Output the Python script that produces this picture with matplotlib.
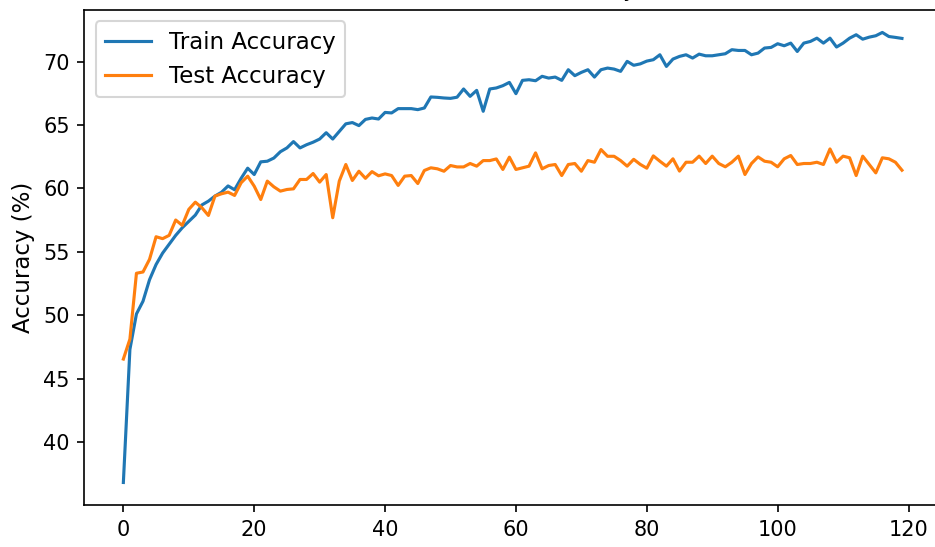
import numpy as np
from matplotlib import pyplot as plt

train_acc = [36.8, 47.3, 50.1, 51.1, 52.8, 54.0, 54.9, 55.6, 56.3, 56.9,
             57.4, 57.9, 58.7, 59.0, 59.4, 59.7, 60.2, 59.9, 60.8, 61.6,
             61.1, 62.1, 62.15, 62.4, 62.9, 63.2, 63.7, 63.2, 63.45, 63.65,
             63.9, 64.4, 63.9, 64.5, 65.1, 65.2, 64.96, 65.45, 65.56, 65.48,
             66.0, 65.96, 66.3, 66.3, 66.3, 66.22, 66.35, 67.22, 67.19, 67.14,
             67.11, 67.2, 67.85, 67.27, 67.74, 66.09, 67.85, 67.93, 68.11, 68.37,
             67.48, 68.53, 68.58, 68.5, 68.85, 68.71, 68.79, 68.53, 69.37, 68.9,
             69.16, 69.37, 68.79, 69.37, 69.5, 69.42, 69.24, 70.03, 69.72, 69.83,
             70.05, 70.16, 70.55, 69.63, 70.21, 70.42, 70.55, 70.29, 70.6, 70.47,
             70.47, 70.55, 70.63, 70.95, 70.89, 70.89, 70.55, 70.68, 71.08, 71.13,
             71.42, 71.26, 71.47, 70.81, 71.47, 71.6, 71.86, 71.47, 71.86, 71.16,
             71.47, 71.86, 72.13, 71.78, 71.94, 72.05, 72.31, 71.99, 71.92, 71.84]

test_acc = [46.54, 48.11, 53.31, 53.41, 54.41, 56.19, 56.04, 56.3, 57.51, 57.09,
            58.35, 58.92, 58.48, 57.87, 59.4, 59.58, 59.71, 59.45, 60.45, 60.97,
            60.18, 59.13, 60.58, 60.13, 59.79, 59.92, 59.97, 60.71, 60.71, 61.18,
            60.5, 61.1, 57.69, 60.58, 61.89, 60.63, 61.36, 60.8, 61.33, 61.0,
            61.15, 61.02, 60.24, 60.97, 61.02, 60.39, 61.42, 61.63, 61.55, 61.36,
            61.81, 61.7, 61.7, 61.97, 61.76, 62.2, 62.2, 62.33, 61.5, 62.47,
            61.5, 61.63, 61.76, 62.81, 61.55, 61.81, 61.89, 61.02, 61.89, 61.97,
            61.36, 62.2, 62.07, 63.07, 62.54, 62.54, 62.2, 61.76, 62.3, 61.9,
            61.6, 62.57, 62.15, 61.76, 62.34, 61.37, 62.07, 62.07, 62.55, 61.97,
            62.55, 61.97, 61.71, 62.07, 62.55, 61.1, 61.97, 62.49, 62.15, 62.07,
            61.71, 62.34, 62.6, 61.89, 61.97, 61.97, 62.07, 61.89, 63.12, 62.07,
            62.55, 62.42, 61.02, 62.55, 61.89, 61.23, 62.42, 62.34, 62.07, 61.44]

epochs = np.arange(len(train_acc))

# reference is a crop of a bigger figure: axes run past the right/top edges
fig = plt.figure(figsize=(935 / 150, 547 / 150), dpi=150)
ax = fig.add_axes([0.0903, 0.0768, 0.916, 0.905])

ax.plot(epochs, train_acc, label='Train Accuracy')
ax.plot(epochs, test_acc, label='Test Accuracy')

ax.set_title('Train and Test Accuracy', fontsize=10)
ax.set_ylabel('Accuracy (%)', fontsize=11)
ax.legend(loc='upper left', fontsize=11)

plt.savefig('out.png', dpi=150)
